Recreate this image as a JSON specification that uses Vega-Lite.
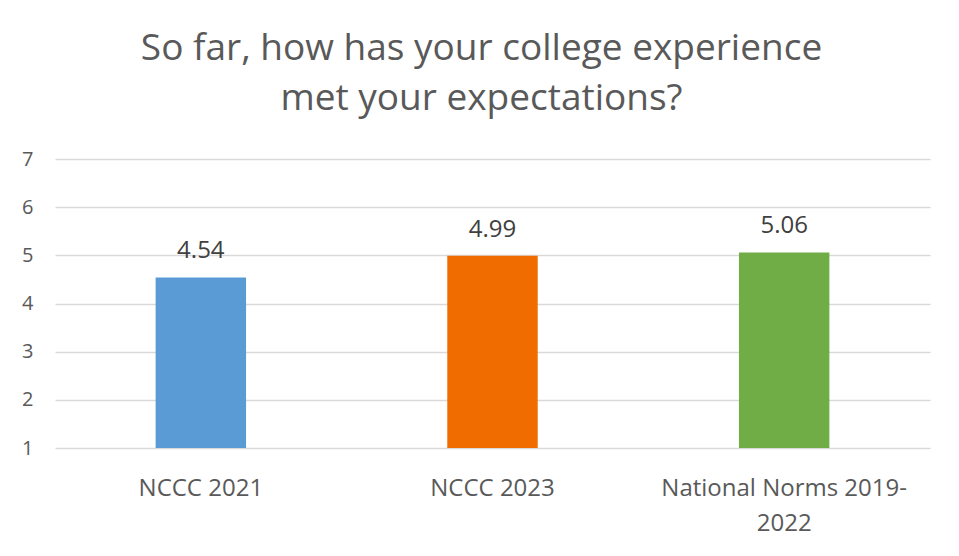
{
  "$schema": "https://vega.github.io/schema/vega-lite/v6.json",
  "autosize": {"type": "none"},
  "width": 875,
  "height": 289,
  "padding": {"left": 55, "top": 159, "right": 29, "bottom": 108},
  "background": "white",
  "title": {
    "text": ["So far, how has your college experience", "met your expectations?"],
    "font": "Open Sans",
    "fontSize": 37,
    "fontWeight": "normal",
    "color": "#595959",
    "lineHeight": 50,
    "anchor": "middle",
    "dx": -11,
    "offset": 2,
    "baseline": "alphabetic"
  },
  "data": {
    "values": [
      {"group": "NCCC 2021", "value": 4.54},
      {"group": "NCCC 2023", "value": 4.99},
      {"group": "National Norms 2019-2022", "value": 5.06}
    ]
  },
  "config": {
    "view": {"stroke": null},
    "font": "Open Sans"
  },
  "encoding": {
    "x": {
      "field": "group",
      "type": "nominal",
      "sort": null,
      "scale": {"paddingInner": 0.69, "paddingOuter": 0.345},
      "axis": {
        "title": null,
        "labelAngle": 0,
        "labelFontSize": 24,
        "labelColor": "#595959",
        "labelPadding": 47,
        "labelLineHeight": 35,
        "labelLimit": 0,
        "labelBaseline": "alphabetic",
        "ticks": false,
        "domain": false,
        "labelExpr": "datum.label == 'National Norms 2019-2022' ? ['National Norms 2019-', '2022'] : datum.label"
      }
    },
    "y": {
      "field": "value",
      "type": "quantitative",
      "scale": {"domain": [1, 7], "nice": false, "zero": false},
      "axis": {
        "title": null,
        "values": [1, 2, 3, 4, 5, 6, 7],
        "labelFontSize": 20,
        "labelColor": "#595959",
        "labelPadding": 22,
        "ticks": false,
        "domain": false,
        "gridColor": "#d9d9d9",
        "gridWidth": 1.5
      }
    }
  },
  "layer": [
    {
      "mark": {"type": "bar"},
      "encoding": {
        "y2": {"datum": 1},
        "color": {
          "field": "group",
          "type": "nominal",
          "sort": null,
          "scale": {"range": ["#5B9BD5", "#F06C00", "#70AD47"]},
          "legend": null
        }
      }
    },
    {
      "mark": {"type": "text", "dy": -19, "fontSize": 24, "color": "#404040", "baseline": "alphabetic"},
      "encoding": {
        "text": {"field": "value", "type": "quantitative", "format": ".2f"}
      }
    }
  ]
}
